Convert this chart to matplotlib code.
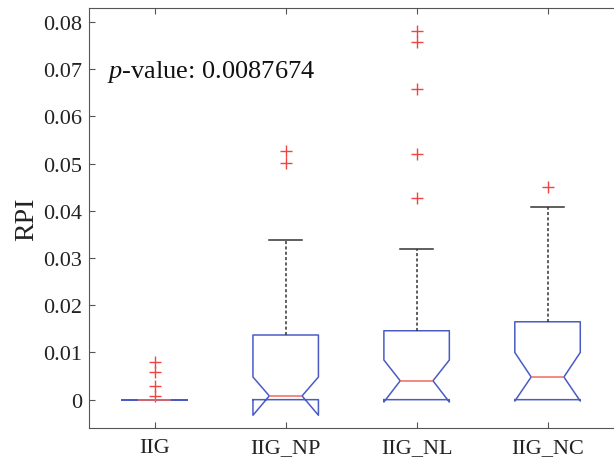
import matplotlib
matplotlib.use("Agg")
import matplotlib.pyplot as plt

# values (RPI)
groups = ["IIG", "IIG_NP", "IIG_NL", "IIG_NC"]
q1 = [0.0, 0.0, 0.0, 0.0]
med = [0.0, 0.0008, 0.0040, 0.0048]
q3 = [0.0, 0.0137, 0.0146, 0.0165]
ci_lo = [0.0, -0.0033, -0.0005, -0.0003]
ci_hi = [0.0, 0.0048, 0.0084, 0.0100]
whis_lo = [0.0, 0.0, 0.0, 0.0]
whis_hi = [0.0, 0.0339, 0.0320, 0.0409]
outliers = [
    [0.0079, 0.0058, 0.0029, 0.0008],
    [0.0527, 0.0501],
    [0.0781, 0.0757, 0.0659, 0.0520, 0.0428],
    [0.0450],
]
p_value = 0.0087674

plt.rcParams['font.family'] = ['Liberation Serif', 'DejaVu Serif']
plt.rcParams['mathtext.fontset'] = 'custom'
plt.rcParams['mathtext.rm'] = 'Liberation Serif'
plt.rcParams['mathtext.it'] = 'Liberation Serif:italic'

stats = []
for i in range(len(groups)):
    stats.append(dict(med=med[i], q1=q1[i], q3=q3[i], cilo=ci_lo[i], cihi=ci_hi[i],
                      whislo=whis_lo[i], whishi=whis_hi[i], fliers=outliers[i], label=groups[i]))

fig = plt.figure(figsize=(6.14, 4.64), dpi=100)
ax = fig.add_axes([89.3 / 614, 35 / 464, (613 - 89.3) / 614, 419.7 / 464])

box_col = '#4a5cc4'
parts = ax.bxp(stats, positions=range(1, 5), widths=0.5, shownotches=True,
               boxprops=dict(color=box_col, linewidth=1.1),
               medianprops=dict(color='#f06a60', linewidth=1.1),
               whiskerprops=dict(color='#333333', linewidth=1.1, linestyle=(0, (2, 1.5))),
               capprops=dict(color='#333333', linewidth=1.1),
               flierprops=dict(marker='+', markeredgecolor='#ee4444', markersize=8,
                               markeredgewidth=1.0))

# zero-length whiskers: hide their caps (they sit on the box edge)
for i in range(len(groups)):
    if whis_lo[i] == q1[i]:
        parts['caps'][2 * i].set_visible(False)
        parts['whiskers'][2 * i].set_visible(False)
    if whis_hi[i] == q3[i]:
        parts['caps'][2 * i + 1].set_visible(False)
        parts['whiskers'][2 * i + 1].set_visible(False)

ax.set_xlim(0.5, 4.5)
ax.set_ylim(-0.006, 0.0829)
ax.set_yticks([0, 0.01, 0.02, 0.03, 0.04, 0.05, 0.06, 0.07, 0.08])
ax.set_yticklabels(['0', '0.01', '0.02', '0.03', '0.04', '0.05', '0.06', '0.07', '0.08'])
ax.set_xticks(range(1, 5))
ax.set_xticklabels(groups)

ax.spines['right'].set_visible(False)
for s in ['left', 'top', 'bottom']:
    ax.spines[s].set_color('#555555')
ax.tick_params(direction='in', top=True, length=4, width=0.8, color='#555555',
               labelsize=16, labelcolor='#222222')
ax.tick_params(axis='y', pad=5)
ax.tick_params(axis='x', pad=7)
ax.set_ylabel('RPI', fontsize=20, color='#222222', labelpad=3)

ax.text(0.633, 0.0696, r'$\it{p}$-value: ' + str(p_value), fontsize=19,
        color='#111111', va='center', ha='left')

fig.savefig('out.png', dpi=100)
